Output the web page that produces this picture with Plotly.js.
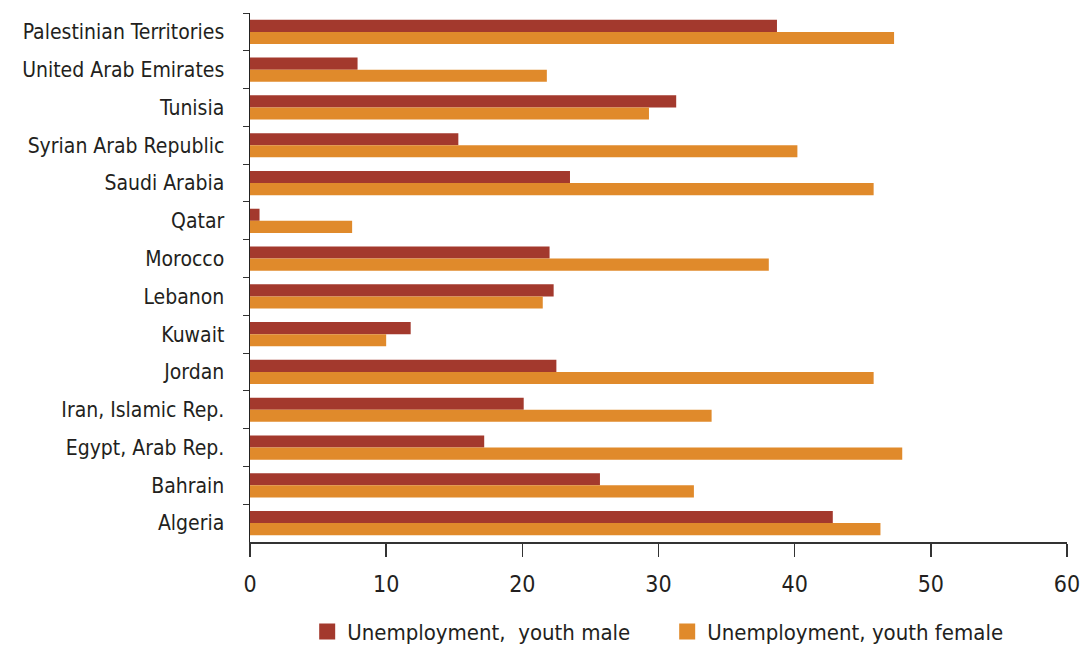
<!DOCTYPE html>
<html>
<head>
<meta charset="utf-8">
<script src="https://cdn.plot.ly/plotly-3.0.1.min.js"></script>
<style>html,body{margin:0;padding:0;background:#fff;}#chart{width:1085px;height:650px;}</style>
</head>
<body>
<div id="chart"></div>
<script>
const countries = ["Palestinian Territories","United Arab Emirates","Tunisia","Syrian Arab Republic","Saudi Arabia","Qatar","Morocco","Lebanon","Kuwait","Jordan","Iran, Islamic Rep.","Egypt, Arab Rep.","Bahrain","Algeria"];
const youthMale = [38.7, 7.9, 31.3, 15.3, 23.5, 0.7, 22.0, 22.3, 11.8, 22.5, 20.1, 17.2, 25.7, 42.8];
const youthFemale = [47.3, 21.8, 29.3, 40.2, 45.8, 7.5, 38.1, 21.5, 10.0, 45.8, 33.9, 47.9, 32.6, 46.3];
const seriesNames = ["Unemployment,  youth male", "Unemployment, youth female"];
const seriesColors = ['#a3392d', '#e08a2b'];
const xTicks = [0, 10, 20, 30, 40, 50, 60];

const font = "DejaVu Sans Condensed, Liberation Sans Narrow, sans-serif";
const data = [
  {type:'bar', orientation:'h', y:countries, x:youthMale, name:seriesNames[0], marker:{color:seriesColors[0]}, showlegend:false},
  {type:'bar', orientation:'h', y:countries, x:youthFemale, name:seriesNames[1], marker:{color:seriesColors[1]}, showlegend:false},
  {type:'scatter', mode:'markers', x:[null], y:[null], name:seriesNames[0], marker:{symbol:'square', size:18, color:seriesColors[0]}},
  {type:'scatter', mode:'markers', x:[null], y:[null], name:seriesNames[1], marker:{symbol:'square', size:18, color:seriesColors[1]}}
];
const layout = {
  width:1085, height:650,
  margin:{l:250, r:18, t:13, b:108},
  paper_bgcolor:'#fff', plot_bgcolor:'#fff',
  barmode:'group', bargap:0.36, bargroupgap:0,
  font:{family:font, size:21, color:'#231f20'},
  xaxis:{range:[0,60], tickvals:xTicks, ticks:'outside', ticklen:13, tickcolor:'#333', tickwidth:1.5,
         showline:true, linecolor:'#333', linewidth:1.5, showgrid:false, zeroline:false,
         ticklabelstandoff:8, tickfont:{family:font, size:23, color:'#231f20'}},
  yaxis:{autorange:'reversed', type:'category', ticks:'outside', tickson:'boundaries', ticklen:6,
         tickcolor:'#333', showline:true, linecolor:'#222', linewidth:1.5, showgrid:false,
         ticklabelstandoff:20, tickfont:{family:font, size:21, color:'#231f20'}},
  legend:{orientation:'h', x:0.070, xanchor:'left', xref:'paper', yref:'container', y:0.028, yanchor:'middle',
          entrywidth:315, entrywidthmode:'pixels',
          font:{family:font, size:22, color:'#231f20'}, itemwidth:30},
  showlegend:true
};
Plotly.newPlot('chart', data, layout, {displayModeBar:false, staticPlot:true});
</script>
</body>
</html>
